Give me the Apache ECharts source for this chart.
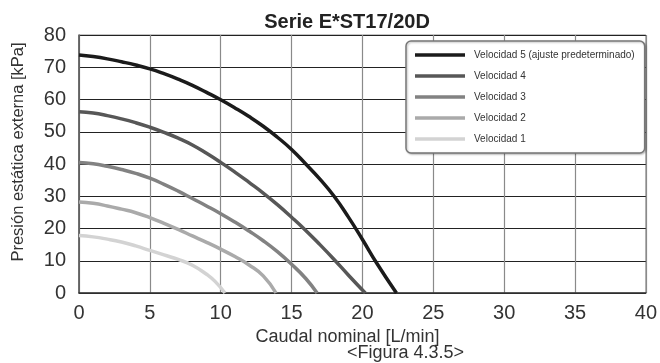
<!DOCTYPE html>
<html>
<head>
<meta charset="utf-8">
<script src="https://cdn.jsdelivr.net/npm/echarts@6/dist/echarts.min.js"></script>
<style>html,body{margin:0;padding:0;background:#fff}#c{width:660px;height:363px}</style>
</head>
<body>
<div id="c"></div>
<script>
const seriesNames = ['Velocidad 5 (ajuste predeterminado)', 'Velocidad 4', 'Velocidad 3', 'Velocidad 2', 'Velocidad 1'];
const speed5 = [[0,73.8],[1,73.3],[2,72.6],[3,71.7],[4,70.7],[5,69.5],[6,68],[7,66.3],[8,64.4],[9,62.2],[10,59.9],[11,57.4],[12,54.7],[13,51.7],[14,48.3],[15,44.5],[16,40],[17,35.3],[18,30],[19,23.6],[20,16.6],[21,9.3],[22.4,0]];
const speed4 = [[0,56.2],[1,55.8],[2,55],[3,54],[4,52.8],[5,51.4],[6,49.8],[7,48],[8,45.9],[9,43.3],[10,40.5],[11,37.5],[12,34.3],[13,31],[14,27.4],[15,23.5],[16,19.4],[17,15],[18,10.4],[19,5.6],[20.2,0]];
const speed3 = [[0,40.5],[1,40.1],[2,39.3],[3,38.3],[4,37.1],[5,35.6],[6,33.7],[7,31.6],[8,29.3],[9,27],[10,24.6],[11,22],[12,19.2],[13,16.2],[14,12.8],[15,8.9],[16,4.5],[16.8,0]];
const speed2 = [[0,28.2],[1,27.8],[2,27],[3,26],[4,24.9],[5,23.4],[6,21.6],[7,19.7],[8,17.7],[9,15.7],[10,13.6],[11,11.3],[12,8.7],[13,5.3],[13.9,0]];
const speed1 = [[0,17.8],[1,17.4],[2,16.7],[3,15.8],[4,14.6],[5,13.2],[6,11.8],[7,10.4],[8,8.6],[9,5.8],[9.6,3.6],[10.3,0]];
const xTicks = {min: 0, max: 40, step: 5};
const yTicks = {min: 0, max: 80, step: 10};
const colors = ['#1b1b1b', '#575757', '#828282', '#aaaaaa', '#d3d3d3'];
const allData = [speed5, speed4, speed3, speed2, speed1];

const chart = echarts.init(document.getElementById('c'));
const FONT = '"Liberation Sans", Arial, sans-serif';
chart.setOption({
  animation: false,
  textStyle: {fontFamily: FONT},
  title: {
    text: 'Serie E*ST17/20D',
    left: 342, top: 7, textAlign: 'center',
    textStyle: {fontSize: 20, fontWeight: 'bold', color: '#222', fontFamily: FONT}
  },
  grid: {left: 79, right: 12, top: 35, bottom: 70, show: true, borderColor: '#888', borderWidth: 1},
  legend: {
    orient: 'vertical', left: 406, top: 41,
    padding: [7, 10, 7, 9], itemGap: 7, itemWidth: 50, itemHeight: 3.5, icon: 'rect',
    backgroundColor: '#fff', borderColor: '#777', borderWidth: 1.5, borderRadius: 5,
    shadowColor: 'rgba(0,0,0,0.25)', shadowBlur: 2, shadowOffsetX: 1, shadowOffsetY: 1,
    textStyle: {fontFamily: FONT, fontSize: 10, color: '#333', padding: [0,0,0,4], lineHeight: 14},
    data: seriesNames
  },
  xAxis: {
    type: 'value', min: xTicks.min, max: xTicks.max, interval: xTicks.step,
    name: 'Caudal nominal [L/min]', nameLocation: 'middle', nameGap: 30,
    nameTextStyle: {fontSize: 18, color: '#333', padding: [0, 30, 0, 0]},
    axisLine: {lineStyle: {color: '#333', width: 1.5}},
    axisTick: {show: false},
    axisLabel: {fontSize: 20, color: '#333', margin: 10},
    splitLine: {show: true, lineStyle: {color: '#8a8a8a', width: 1.2}}
  },
  yAxis: {
    type: 'value', min: yTicks.min, max: yTicks.max, interval: yTicks.step,
    name: 'Presión estática externa [kPa]', nameLocation: 'middle', nameGap: 52,
    nameTextStyle: {fontSize: 16.5, color: '#333', padding: [0, 0, 0, 24]},
    axisLine: {show: true, lineStyle: {color: '#555', width: 1.5}},
    axisTick: {show: false},
    axisLabel: {fontSize: 20, color: '#333', margin: 13},
    splitLine: {show: true, lineStyle: {color: '#222', width: 1.2}}
  },
  graphic: [{
    type: 'text', left: 347, top: 344,
    style: {text: '<Figura 4.3.5>', fontSize: 18, fill: '#333', fontFamily: FONT, textAlign: 'center'}
  }],
  series: allData.map((d, i) => ({
    name: seriesNames[i], type: 'line', data: d, smooth: 0.5,
    symbol: 'none', showSymbol: false, z: 10 - i,
    lineStyle: {color: colors[i], width: 3.5},
    itemStyle: {color: colors[i]}
  }))
});
</script>
</body>
</html>
